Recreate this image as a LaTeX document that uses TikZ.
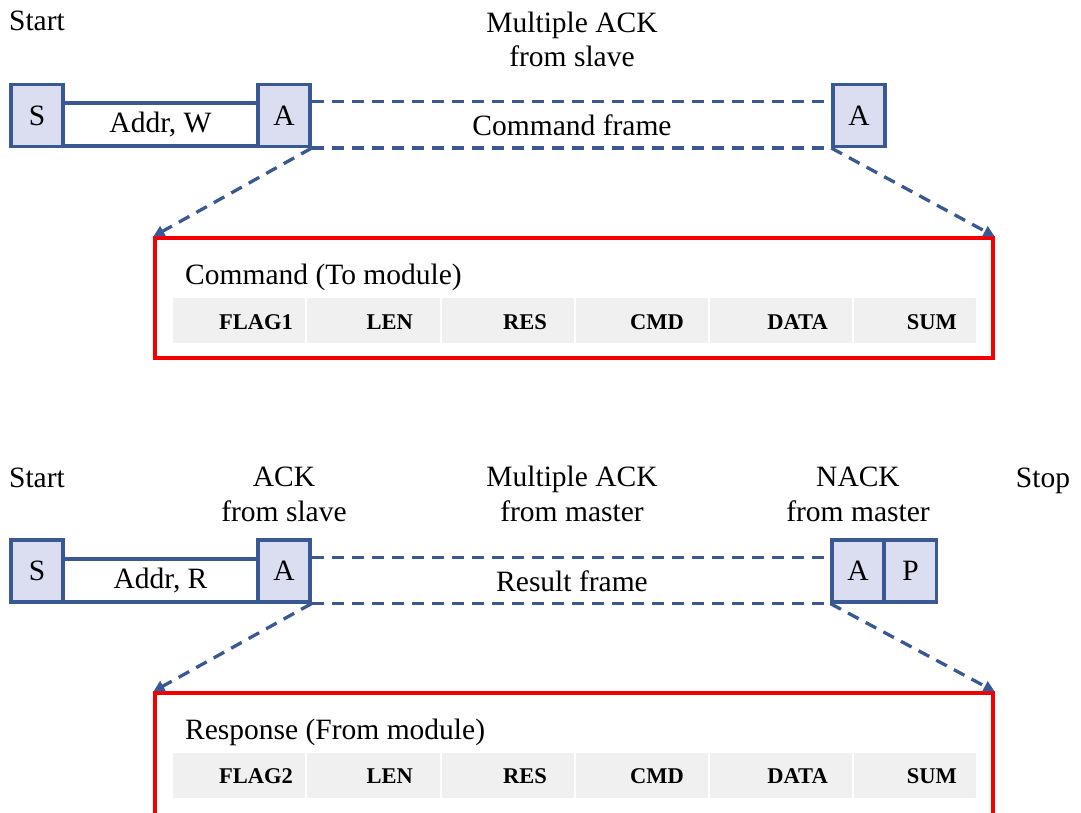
\documentclass[tikz,border=0pt]{standalone}
\usepackage{fontspec}
\setmainfont{Liberation Serif}
\usetikzlibrary{arrows.meta}
\definecolor{frameblue}{RGB}{58,88,148}
\definecolor{bitfill}{RGB}{219,221,241}
\definecolor{boxred}{RGB}{245,0,0}
\definecolor{cellgray}{RGB}{240,240,240}
\newcommand\lblfont{\fontsize{29.5}{34}\selectfont}
\newcommand\cellfont{\fontsize{22.5}{26}\selectfont\bfseries}
\begin{document}
\begin{tikzpicture}[x=1pt,y=-1pt,
  bit/.style={draw=frameblue, fill=bitfill, line width=3.2pt,
    minimum width=52pt, minimum height=62pt, inner sep=0pt, font=\lblfont},
  addrbox/.style={draw=frameblue, fill=white, line width=3.2pt,
    minimum width=195pt, minimum height=43pt, inner sep=0pt, font=\lblfont},
  dashline/.style={draw=frameblue, line width=3.3pt, dash pattern=on 12pt off 8pt},
  dasharrow/.style={dashline, -{Triangle[length=11pt,width=11pt]}},
  frame/.style={draw=boxred, line width=3.2pt, minimum width=838pt,
    minimum height=120pt, inner sep=0pt},
  cell/.style={fill=cellgray, minimum height=45pt, inner sep=0pt},
  celltext/.style={anchor=base east, inner sep=0pt, font=\cellfont},
  plain/.style={inner sep=0pt, font=\lblfont},
]
\useasboundingbox (0,0) rectangle (1081,812);
\clip (0,0) rectangle (1081,812);

% ---------------- write transaction ----------------
\node[plain, anchor=base] (st1) at (37,30) {Start};
\node[plain, anchor=base] (mk1) at (572,32) {Multiple ACK};
\node[plain, anchor=base] (mk1b) at (572,66) {from slave};

\node[addrbox] (addr1) at (160.5,124.5) {Addr, W};
\node[bit] (s1) at (37,115.5) {S};
\node[bit] (a1) at (284,115.5) {A};
\node[bit] (a2) at (859,115.5) {A};
\draw[dashline] (a1.east |- addr1.north) -- (a2.west |- addr1.north);
\draw[dashline] (a1.south east) -- (a2.south west);
\node[plain, anchor=base] (cf) at (572,135) {Command frame};

\node[frame] (f1) at (574,298) {};
\draw[dasharrow] (a1.south east) -- (f1.north west);
\draw[dasharrow] (a2.south west) -- (f1.north east);
\node[plain, anchor=base west] (t1) at (185,284) {Command (To module)};

\node[cell, minimum width=132pt] (c11) at (239,320.5) {};
\node[cell, minimum width=133pt] (c12) at (373.5,320.5) {};
\node[cell, minimum width=132pt] (c13) at (508,320.5) {};
\node[cell, minimum width=132pt] (c14) at (642,320.5) {};
\node[cell, minimum width=142pt] (c15) at (781,320.5) {};
\node[cell, minimum width=122pt] (c16) at (915,320.5) {};
\node[celltext] (l11) at (293,329) {FLAG1};
\node[celltext] (l12) at (413,329) {LEN};
\node[celltext] (l13) at (547,329) {RES};
\node[celltext] (l14) at (684,329) {CMD};
\node[celltext] (l15) at (828,329) {DATA};
\node[celltext] (l16) at (957,329) {SUM};

% ---------------- read transaction ----------------
\node[plain, anchor=base] (st2) at (37,487) {Start};
\node[plain, anchor=base] (ak2) at (284,486) {ACK};
\node[plain, anchor=base] (ak2b) at (284,521) {from slave};
\node[plain, anchor=base] (mk2) at (572,486) {Multiple ACK};
\node[plain, anchor=base] (mk2b) at (572,521) {from master};
\node[plain, anchor=base] (nk2) at (858,486) {NACK};
\node[plain, anchor=base] (nk2b) at (858,521) {from master};
\node[plain, anchor=base] (sp2) at (1043,487) {Stop};

\node[addrbox] (addr2) at (160.5,580.5) {Addr, R};
\node[bit] (s2) at (37,571) {S};
\node[bit] (a3) at (284,571) {A};
\node[bit] (a4) at (858,571) {A};
\node[bit] (p2) at (910.5,571) {P};
\draw[dashline] (a3.east |- addr2.north) -- (a4.west |- addr2.north);
\draw[dashline] (a3.south east) -- (a4.south west);
\node[plain, anchor=base] (rf) at (572,591) {Result frame};

% the lower frame runs past the bottom edge of the page
\node[frame, minimum height=130pt] (f2) at (574,758) {};
\draw[dasharrow] (a3.south east) -- (f2.north west);
\draw[dasharrow] (a4.south west) -- (f2.north east);
\node[plain, anchor=base west] (t2) at (185,739) {Response (From module)};

\node[cell, minimum width=132pt] (c21) at (239,775) {};
\node[cell, minimum width=133pt] (c22) at (373.5,775) {};
\node[cell, minimum width=132pt] (c23) at (508,775) {};
\node[cell, minimum width=132pt] (c24) at (642,775) {};
\node[cell, minimum width=142pt] (c25) at (781,775) {};
\node[cell, minimum width=122pt] (c26) at (915,775) {};
\node[celltext] (l21) at (293,783.5) {FLAG2};
\node[celltext] (l22) at (413,783.5) {LEN};
\node[celltext] (l23) at (547,783.5) {RES};
\node[celltext] (l24) at (684,783.5) {CMD};
\node[celltext] (l25) at (828,783.5) {DATA};
\node[celltext] (l26) at (957,783.5) {SUM};
\end{tikzpicture}
\end{document}
